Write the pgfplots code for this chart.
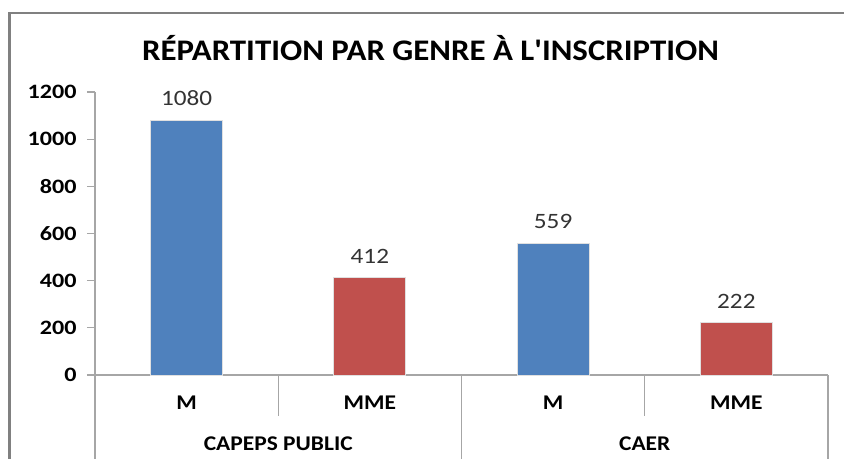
\documentclass[border=0pt]{standalone}
\usepackage{pgfplots}
\pgfplotsset{compat=1.18}
\usepackage{fontspec}
\setmainfont{Carlito}
\definecolor{barblue}{HTML}{4F81BD}
\definecolor{barred}{HTML}{C0504D}
\definecolor{axgray}{HTML}{A6A6A6}
\newcommand{\catfont}{\fontsize{21}{24}\selectfont\bfseries}
\newcommand{\cat}[1]{\scalebox{1.12}[1]{#1}}
\begin{document}
\begin{tikzpicture}
\useasboundingbox (0bp,0bp) rectangle (844bp,459bp);
\clip (0bp,0bp) rectangle (844bp,459bp);
\draw[line width=2.5bp, color=gray] (9.5bp,-10bp) -- (9.5bp,446bp) -- (860bp,446bp);
\node[font=\fontsize{30}{36}\selectfont\bfseries] at (430.5bp,410.5bp) {\scalebox{1.1}[1]{RÉPARTITION PAR GENRE À L\textquotesingle INSCRIPTION}};
\begin{axis}[
  at={(95bp,84bp)}, anchor=south west,
  scale only axis, width=733bp, height=283bp,
  xmin=-0.5, xmax=3.5, ymin=0, ymax=1200,
  axis x line*=bottom, axis y line*=left,
  axis line style={draw=axgray, line width=1.2bp},
  xtick=\empty,
  ytick={0,200,...,1200},
  tick align=outside, major tick length=8bp,
  tick style={draw=axgray, line width=1.2bp},
  yticklabel={\scalebox{1.18}[1]{\pgfmathprintnumber{\tick}}},
  yticklabel style={font=\fontsize{20.5}{24}\selectfont\bfseries, xshift=-7bp, /pgf/number format/assume math mode=true},
  /pgf/number format/1000 sep={},
  clip=false,
  nodes near coords={\scalebox{1.15}[1]{\pgfmathprintnumber{\pgfplotspointmeta}}},
  nodes near coords style={font=\fontsize{22}{26}\selectfont, text=black!80, anchor=south, inner sep=0pt, yshift=14bp, /pgf/number format/assume math mode=true},
]
\addplot[ybar, bar width=72bp, bar shift=0pt, fill=barblue, draw=black!12, line width=1bp] coordinates {(0,1080) (2,559)};
\addplot[ybar, bar width=72bp, bar shift=0pt, fill=barred, draw=black!12, line width=1bp] coordinates {(1,412) (3,222)};
\draw[axgray, line width=1.2bp] (axis cs:-0.5,0) -- ++(0bp,-100bp);
\draw[axgray, line width=1.2bp] (axis cs:1.5,0) -- ++(0bp,-100bp);
\draw[axgray, line width=1.2bp] (axis cs:3.5,0) -- ++(0bp,-100bp);
\draw[axgray, line width=1.2bp] (axis cs:0.5,0) -- ++(0bp,-41bp);
\draw[axgray, line width=1.2bp] (axis cs:2.5,0) -- ++(0bp,-41bp);
\node[font=\catfont] at ([yshift=-28bp]axis cs:0,0) {\cat{M}};
\node[font=\catfont] at ([yshift=-28bp]axis cs:1,0) {\cat{MME}};
\node[font=\catfont] at ([yshift=-28bp]axis cs:2,0) {\cat{M}};
\node[font=\catfont] at ([yshift=-28bp]axis cs:3,0) {\cat{MME}};
\node[font=\catfont] at ([yshift=-69bp]axis cs:0.5,0) {\cat{CAPEPS PUBLIC}};
\node[font=\catfont] at ([yshift=-69bp]axis cs:2.5,0) {\cat{CAER}};
\end{axis}
\end{tikzpicture}
\end{document}
